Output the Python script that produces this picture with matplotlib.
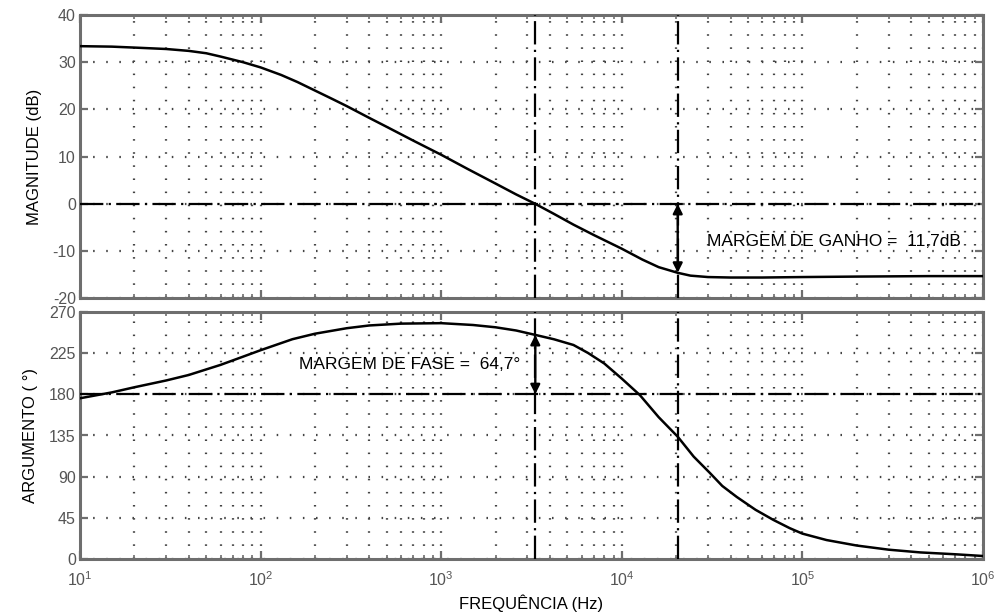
import numpy as np
import matplotlib
matplotlib.use("Agg")
import matplotlib.pyplot as plt
from matplotlib.ticker import LogLocator, FixedLocator

plt.rcParams['font.family'] = ['Liberation Sans', 'DejaVu Sans']
plt.rcParams['mathtext.fontset'] = 'custom'
plt.rcParams['mathtext.rm'] = 'Liberation Sans'
plt.rcParams['axes.unicode_minus'] = False

# ---- data ----
freq_mag = [10, 15, 20, 30, 40, 50, 60, 80, 100, 130, 160, 200, 250, 300, 400, 500, 700,
            1000, 1400, 2000, 2600, 3319, 4200, 5400, 7000, 10000, 13000, 16000, 20400,
            24000, 30000, 40000, 60000, 100000, 200000, 500000, 1000000]
mag_db = [33.4, 33.3, 33.1, 32.8, 32.4, 31.9, 31.2, 30.0, 28.9, 27.3, 25.8, 24.0, 22.2,
          20.7, 18.2, 16.3, 13.4, 10.4, 7.4, 4.3, 2.0, 0.0, -2.1, -4.4, -6.6, -9.5,
          -11.8, -13.4, -14.6, -15.2, -15.5, -15.6, -15.6, -15.5, -15.4, -15.3, -15.3]

freq_phase = [10, 15, 20, 30, 40, 60, 80, 100, 150, 200, 300, 400, 600, 1000, 1500,
              2000, 2600, 3319, 4200, 5400, 6500, 8000, 10000, 12600, 16000, 20400,
              25000, 30800, 36000, 43300, 55000, 69000, 85000, 100000, 136000, 200000,
              300000, 450000, 700000, 1000000]
phase_deg = [175.6, 182.0, 187.6, 195.0, 201.0, 212.0, 221.0, 228.0, 240.0, 246.0,
             252.0, 255.0, 257.0, 257.5, 255.5, 253.0, 249.5, 244.7, 240.0, 233.7,
             225.0, 213.5, 197.0, 179.0, 155.0, 133.7, 112.0, 94.0, 80.0, 68.0, 54.0,
             43.0, 34.0, 28.0, 21.0, 15.0, 10.5, 7.5, 5.5, 3.6]

phase_cross_freq = 3319      # 0 dB crossover
gain_cross_freq = 20400      # 180 deg crossover
mag_at_gain_cross = -14.6
phase_at_phase_cross = 244.7
mag_ref = 0
phase_ref = 180

mag_ticks = [-20, -10, 0, 10, 20, 30, 40]
phase_ticks = [0, 45, 90, 135, 180, 225, 270]
gain_text = "MARGEM DE GANHO =  11,7dB"
phase_text = "MARGEM DE FASE =  64,7°"

W, H = 997, 612
fig = plt.figure(figsize=(W / 100, H / 100), dpi=100)
L, R = 80 / W, 983 / W
ax1 = fig.add_axes([L, 1 - 298.3 / H, R - L, 283.3 / H])
ax2 = fig.add_axes([L, 1 - 559.3 / H, R - L, 247.6 / H])

spine_col = '#6e6e6e'
grid_col = '#444444'
tick_col = '#555555'
dashdot = (0, (10.5, 2.4, 1.0, 2.4))
dots = (0, (0.7, 5.2))

for ax, yt, ylim in [(ax1, mag_ticks, (-20, 40)), (ax2, phase_ticks, (0, 270))]:
    ax.set_xscale('log')
    ax.set_xlim(10, 1e6)
    ax.set_ylim(*ylim)
    ax.yaxis.set_major_locator(FixedLocator(yt))
    ax.xaxis.set_major_locator(LogLocator(base=10))
    ax.xaxis.set_minor_locator(LogLocator(base=10, subs=np.arange(2, 10)))
    ax.grid(True, which='major', axis='y', color=grid_col, linestyle=dots, linewidth=1.6)
    ax.grid(True, which='both', axis='x', color=grid_col, linestyle=dots, linewidth=1.6)
    for s in ax.spines.values():
        s.set_color(spine_col)
        s.set_linewidth(2.2)
    ax.tick_params(which='major', direction='in', length=6, width=1.6, color=spine_col,
                   top=True, right=True, labelsize=11.5, labelcolor=tick_col, pad=3)
    ax.tick_params(which='minor', direction='in', length=3, width=1.2, color=spine_col,
                   top=True, right=True)
    ax.set_axisbelow(True)
    for f in (phase_cross_freq, gain_cross_freq):
        ax.axvline(f, color='black', linewidth=1.6, linestyle=dashdot, zorder=3)

ax1.tick_params(axis='x', which='both', labelbottom=False)
ax2.tick_params(axis='x', which='major', pad=8)

ax1.plot(freq_mag, mag_db, color='black', linewidth=1.8, zorder=4)
ax1.axhline(mag_ref, color='black', linewidth=1.6, linestyle=dashdot, zorder=3)
ax1.annotate('', xy=(gain_cross_freq, mag_at_gain_cross), xytext=(gain_cross_freq, mag_ref),
             arrowprops=dict(arrowstyle='<|-|>', color='black', lw=1.7,
                             mutation_scale=14, shrinkA=0, shrinkB=0), zorder=5)
ax1.text(29650, -8.0, gain_text, ha='left', va='center', fontsize=12.5, color='black')
ax1.set_ylabel('MAGNITUDE (dB)', fontsize=12, color='black', labelpad=8)

ax2.plot(freq_phase, phase_deg, color='black', linewidth=1.8, zorder=4)
ax2.axhline(phase_ref, color='black', linewidth=1.6, linestyle=dashdot, zorder=3)
ax2.annotate('', xy=(phase_cross_freq, phase_at_phase_cross), xytext=(phase_cross_freq, phase_ref),
             arrowprops=dict(arrowstyle='<|-|>', color='black', lw=1.7,
                             mutation_scale=14, shrinkA=0, shrinkB=0), zorder=5)
ax2.text(2730, 212, phase_text, ha='right', va='center', fontsize=12.5, color='black')
ax2.set_ylabel('ARGUMENTO ( °)', fontsize=12, color='black', labelpad=8)
ax2.set_xlabel('FREQUÊNCIA (Hz)', fontsize=12, color='black', labelpad=4)

fig.savefig('out.png', dpi=100)
